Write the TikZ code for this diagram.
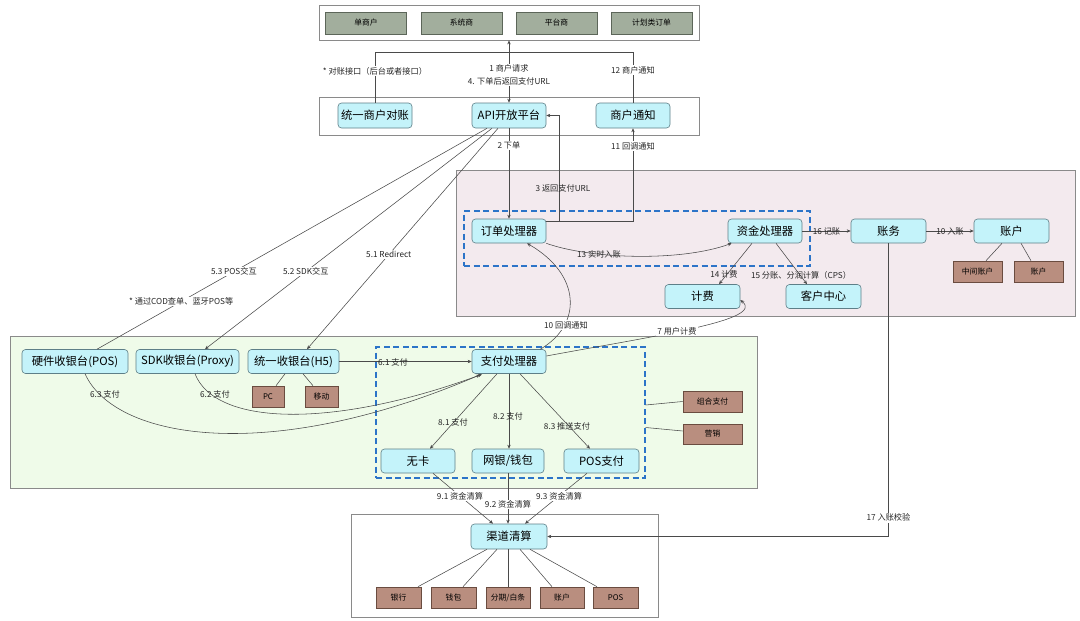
\documentclass[tikz,border=0pt]{standalone}
\usepackage{fontspec}
\setmainfont{Noto Sans CJK SC}
\usetikzlibrary{arrows.meta,calc}
\definecolor{cyf}{HTML}{C4F3FA}
\definecolor{cyd}{HTML}{5E7F88}
\definecolor{brf}{HTML}{B98E7F}
\definecolor{brd}{HTML}{6A4C40}
\definecolor{ggf}{HTML}{A2AE9D}
\definecolor{ggd}{HTML}{5C6659}
\definecolor{pinkbg}{HTML}{F3EAEE}
\definecolor{greenbg}{HTML}{EFFBE9}
\definecolor{bluedash}{HTML}{2C74C8}
\definecolor{ln}{HTML}{4A4A4A}
\definecolor{cbd}{HTML}{8A8A8A}
\begin{document}
\begin{tikzpicture}[x=1pt,y=-1pt,
 cbox/.style={draw=cyd, fill=cyf, rounded corners=3.5pt, line width=0.6pt, minimum height=24pt, inner sep=0pt, font=\fontsize{11.3}{11.3}\selectfont},
 bbox/.style={draw=brd, fill=brf, line width=0.6pt, minimum height=21pt, inner sep=0pt, font=\fontsize{7.8}{7.8}\selectfont},
 gbox/.style={draw=ggd, fill=ggf, line width=0.6pt, minimum height=22pt, minimum width=81pt, inner sep=0pt, font=\fontsize{7.8}{7.8}\selectfont},
 cont/.style={draw=cbd, line width=0.8pt, inner sep=0pt},
 bdash/.style={draw=bluedash, line width=1.4pt, dash pattern=on 6pt off 3.5pt, inner sep=0pt},
 conn/.style={draw=ln, line width=0.55pt},
 arr/.style={conn, -{Stealth[length=4pt,width=3.4pt]}},
 lbl/.style={font=\fontsize{8.2}{8.2}\selectfont, text=black!85, inner sep=1pt},
 wlbl/.style={lbl, fill=white},
]
\useasboundingbox (0,0) rectangle (1080,621);
\fill[white] (0,0) rectangle (1080,621);

% containers
\node[cont, minimum width=380pt, minimum height=35pt] (topc) at (509,22.5) {};
\node[cont, minimum width=380pt, minimum height=38pt] (midc) at (509,116) {};
\node[cont, fill=pinkbg, minimum width=619pt, minimum height=146pt] (pinkc) at (765.5,243) {};
\node[cont, fill=greenbg, minimum width=747pt, minimum height=152pt] (greenc) at (383.5,412) {};
\node[cont, minimum width=307pt, minimum height=103pt] (botc) at (504.5,565.5) {};
\node[bdash, minimum width=346pt, minimum height=55pt] (bd1) at (637,238.5) {};
\node[bdash, minimum width=269pt, minimum height=131pt] (bd2) at (510.5,412.5) {};

% top boxes
\node[gbox] (g1) at (366,23) {单商户};
\node[gbox] (g2) at (461.5,23) {系统商};
\node[gbox] (g3) at (556.5,23) {平台商};
\node[gbox] (g4) at (651.5,23) {计划类订单};

\node[cbox, minimum width=74pt, minimum height=25pt] (dz) at (375,115.5) {统一商户对账};
\node[cbox, minimum width=74pt, minimum height=25pt] (api) at (509,115.5) {API开放平台};
\node[cbox, minimum width=74pt, minimum height=25pt] (tz) at (633,115.5) {商户通知};

% pink area
\node[cbox, minimum width=74pt] (ord) at (509,231) {订单处理器};
\node[cbox, minimum width=74pt] (zj) at (765,231) {资金处理器};
\node[cbox, minimum width=75pt] (zw) at (888.5,231) {账务};
\node[cbox, minimum width=75pt] (zh) at (1011.5,231) {账户};
\node[bbox, minimum width=49pt] (mid) at (977.5,271.5) {中间账户};
\node[bbox, minimum width=49pt] (zh2) at (1038.5,271.5) {账户};
\node[cbox, minimum width=75pt] (fee) at (702.5,296.5) {计费};
\node[cbox, minimum width=75pt] (cc) at (823.5,296.5) {客户中心};

% green area
\node[cbox, minimum width=106pt] (hw) at (75,361.5) {硬件收银台(POS)};
\node[cbox, minimum width=103pt] (sdk) at (187.5,361.5) {SDK收银台(Proxy)};
\node[cbox, minimum width=91pt] (h5) at (293.5,361.5) {统一收银台(H5)};
\node[bbox, minimum width=32pt] (pc) at (268,396.5) {PC};
\node[bbox, minimum width=33pt] (yd) at (321.5,396.5) {移动};
\node[cbox, minimum width=74pt] (pay) at (509,361.5) {支付处理器};
\node[cbox, minimum width=74pt] (wk) at (418,461) {无卡};
\node[cbox, minimum width=72pt] (wy) at (508,461) {网银/钱包};
\node[cbox, minimum width=75pt] (posp) at (601.5,461) {POS支付};
\node[bbox, minimum width=59pt] (zhzf) at (712.5,401.5) {组合支付};
\node[bbox, minimum width=59pt, minimum height=20pt] (yx) at (712.5,434) {营销};

% bottom area
\node[cbox, minimum width=76pt, minimum height=25pt] (qd) at (509,536.5) {渠道清算};
\node[bbox, minimum width=45pt] (b1) at (398.5,597.5) {银行};
\node[bbox, minimum width=45pt] (b2) at (453.5,597.5) {钱包};
\node[bbox, minimum width=44pt] (b3) at (508,597.5) {分期/白条};
\node[bbox, minimum width=44pt] (b4) at (562,597.5) {账户};
\node[bbox, minimum width=45pt] (b5) at (615.5,597.5) {POS};

% top connectors
\coordinate (j) at (509,52);
\draw[arr] (j) -- (topc.south);
\draw[arr] (j) -- node[wlbl, align=center, font=\fontsize{8.2}{13}\selectfont, pos=0.45]{1 商户请求\\4. 下单后返回支付URL} (api.north);
\draw[conn] (dz.north) |- node[wlbl, pos=0.31]{* 对账接口（后台或者接口）} (j);
\draw[conn] (tz.north) |- node[wlbl, pos=0.32]{12 商户通知} (j);

% API / order
\draw[arr] (api.south) -- node[wlbl, pos=0.19]{2 下单} (ord.north);
\draw[arr] ([yshift=-3pt]ord.north east) -- ++(13pt,0) |- (api.east);
\node[lbl] (l3) at (563,188) {3 返回支付URL};
\draw[arr] ([yshift=-3pt]ord.north east) -| node[wlbl, pos=0.904]{11 回调通知} (tz.south);

\draw[arr] (ord.south east) .. controls (590,259) and (680,262) .. ([xshift=4pt]zj.south west);
\node[lbl] (l13) at (599,254) {13 实时入账};
\draw[arr] (zj.east) -- node[lbl]{16 记账} (zw.west);
\draw[arr] (zw.east) -- node[lbl]{10 入账} (zh.west);
\draw[conn] ([xshift=-9.5pt]zh.south) -- ([xshift=8.5pt]mid.north);
\draw[conn] ([xshift=9.5pt]zh.south) -- ([xshift=-7.5pt]zh2.north);
\draw[arr] ([xshift=-13pt]zj.south) -- ([xshift=16.5pt]fee.north);
\node[lbl] (l14) at (724,274) {14 计费};
\draw[arr] ([xshift=11pt]zj.south) -- ([xshift=-16.5pt]cc.north);
\node[lbl] (l15) at (801,275) {15 分账、分润计算（CPS）};

\draw[arr] (zw.south) |- node[wlbl, pos=0.468]{17 入账校验} (qd.east);

% callbacks
\draw[arr] ([xshift=-6pt]pay.north east) .. controls (582,325) and (582,275) .. ([xshift=18pt]ord.south);
\node[wlbl] (l10) at (566,325) {10 回调通知};
\draw[arr] ([yshift=5.5pt]pay.east) .. controls (660,335) and (765,320) .. ([yshift=-3.5pt]fee.east);
\node[wlbl] (l7) at (677,331) {7 用户计费};

% API to cashiers
\draw[conn] ([xshift=-22pt]api.south) -- node[wlbl, pos=0.649]{5.3 POS交互} node[wlbl, pos=0.784]{* 通过COD查单、蓝牙POS等} ([xshift=22pt]hw.north);
\draw[arr] ([xshift=-17pt]api.south) -- node[wlbl, pos=0.649]{5.2 SDK交互} ([xshift=17.5pt]sdk.north);
\draw[arr] ([xshift=-11pt]api.south) -- node[wlbl, pos=0.572]{5.1 Redirect} ([xshift=13.5pt]h5.north);

% green area connectors
\draw[conn] ([xshift=-8.5pt]h5.south) -- ([xshift=8pt]pc.north);
\draw[conn] ([xshift=9.5pt]h5.south) -- ([xshift=-8.5pt]yd.north);
\draw[arr] (h5.east) -- (pay.west);
\node[lbl] (l61) at (393,362) {6.1 支付};
\draw[arr] ([xshift=7.5pt]sdk.south) .. controls (215,425) and (330,430) .. ([xshift=-27pt,yshift=-0.5pt]pay.south);
\node[lbl] (l62) at (215,394) {6.2 支付};
\draw[arr] ([xshift=10pt]hw.south) .. controls (115,440) and (270,465) .. ([xshift=-29pt,yshift=-1pt]pay.south);
\node[lbl] (l63) at (105,394) {6.3 支付};

\draw[arr] ([xshift=-12pt]pay.south) -- ([xshift=12pt]wk.north);
\node[lbl] (l81) at (453,422) {8.1 支付};
\draw[arr] (pay.south) -- (pay.south |- wy.north);
\node[lbl] (l82) at (508,416) {8.2 支付};
\draw[arr] ([xshift=11pt]pay.south) -- ([xshift=-11.5pt]posp.north);
\node[lbl] (l83) at (567,426) {8.3 推送支付};

\draw[conn] ([yshift=7.5pt]bd2.east) -- (zhzf.west);
\draw[conn] ([yshift=-15pt]bd2.east) -- ([yshift=3pt]yx.west);

% clearing
\draw[arr] ([xshift=15pt]wk.south) -- node[wlbl, pos=0.45]{9.1 资金清算} ([xshift=-16pt]qd.north);
\draw[arr] (wy.south) -- node[wlbl, pos=0.62]{9.2 资金清算} (wy.south |- qd.north);
\draw[arr] ([xshift=-14.5pt]posp.south) -- node[wlbl, pos=0.45]{9.3 资金清算} ([xshift=16pt]qd.north);

\draw[conn] ([xshift=-22pt]qd.south) -- ([xshift=19.5pt]b1.north);
\draw[conn] ([xshift=-12pt]qd.south) -- ([xshift=9.5pt]b2.north);
\draw[conn] ([xshift=-1pt]qd.south) -- (b3.north);
\draw[conn] ([xshift=11pt]qd.south) -- ([xshift=-10pt]b4.north);
\draw[conn] ([xshift=21pt]qd.south) -- ([xshift=-18.5pt]b5.north);
\end{tikzpicture}
\end{document}
